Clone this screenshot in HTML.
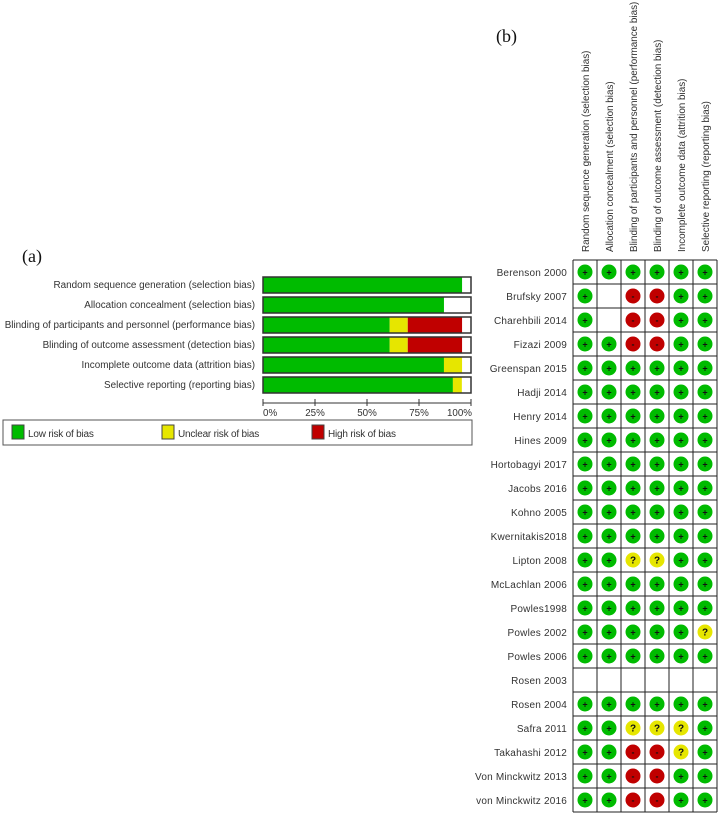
<!DOCTYPE html>
<html><head><meta charset="utf-8"><style>
html,body{margin:0;padding:0;background:#fff;}
svg{display:block;}
text{font-family:"Liberation Sans",Arial,sans-serif;}
</style></head><body>
<svg id="fig" width="721" height="814" viewBox="0 0 721 814" xmlns="http://www.w3.org/2000/svg">
<text x="22" y="262" font-size="18" fill="#111" style="font-family:'Liberation Serif',serif">(a)</text>
<text x="496" y="42" font-size="18" fill="#111" style="font-family:'Liberation Serif',serif">(b)</text>
<g id="summary"></g>
<g id="grid"></g>
</svg>
<script>
const domains = ["Random sequence generation (selection bias)","Allocation concealment (selection bias)","Blinding of participants and personnel (performance bias)","Blinding of outcome assessment (detection bias)","Incomplete outcome data (attrition bias)","Selective reporting (reporting bias)"];
const lowPct = [95.7, 87.0, 60.9, 60.9, 87.0, 91.3];
const unclearPct = [0, 0, 8.7, 8.7, 8.7, 4.3];
const highPct = [0, 0, 26.1, 26.1, 0, 0];
const tickValues = [0, 25, 50, 75, 100];
const tickLabels = ["0%","25%","50%","75%","100%"];
const studies = ["Berenson 2000","Brufsky 2007","Charehbili 2014","Fizazi 2009","Greenspan 2015","Hadji 2014","Henry 2014","Hines 2009","Hortobagyi 2017","Jacobs 2016","Kohno 2005","Kwernitakis2018","Lipton 2008","McLachlan 2006","Powles1998","Powles 2002","Powles 2006","Rosen 2003","Rosen 2004","Safra 2011","Takahashi 2012","Von Minckwitz 2013","von Minckwitz 2016"];
const judgments = ["++++++","+ --++","+ --++","++--++","++++++","++++++","++++++","++++++","++++++","++++++","++++++","++++++","++??++","++++++","++++++","+++++?","++++++","      ","++++++","++???+","++--?+","++--++","++--++"];

const NS="http://www.w3.org/2000/svg";
function mk(tag,attrs,parent){const e=document.createElementNS(NS,tag);for(const k in attrs)e.setAttribute(k,attrs[k]);parent.appendChild(e);return e;}
const GREEN="#00bb00",YELLOW="#e6e600",RED="#c00000";

// Panel (a)
const S=document.getElementById('summary');
const x0=263,x1=471;
const xs=v=>x0+(x1-x0)*v/100;
const rowY=i=>277+i*20;
domains.forEach((d,i)=>{
  const y=rowY(i);
  const t=mk('text',{x:255,y:y+11,'text-anchor':'end','font-size':'9.9',fill:'#333'},S);
  t.textContent=d;
  
  
  mk('rect',{x:x0,y:y,width:x1-x0,height:16,fill:'#fff'},S);
  let acc=0;
  [[lowPct[i],GREEN,'bar-low'],[unclearPct[i],YELLOW,'bar-unclear'],[highPct[i],RED,'bar-high']].forEach(([v,c,n])=>{
    if(v>0){const r=mk('rect',{x:xs(acc),y:y,width:xs(acc+v)-xs(acc),height:16,fill:c},S);
      
      }
    acc+=v;
  });
  const b=mk('rect',{x:x0,y:y,width:x1-x0,height:16,fill:'none',stroke:'#333','stroke-width':1.5},S);
  
  
});
const ax=mk('line',{x1:x0,y1:403,x2:x1,y2:403,stroke:'#333','stroke-width':1},S);


tickValues.forEach((v,i)=>{
  mk('line',{x1:xs(v),y1:399,x2:xs(v),y2:406,stroke:'#333'},S);
  const anchor=i==0?'start':(i==tickValues.length-1?'end':'middle');
  const t=mk('text',{x:xs(v)+(i==tickValues.length-1?1:0),y:416,'text-anchor':anchor,'font-size':'9.8',fill:'#333'},S);
  t.textContent=tickLabels[i];
  
  
});
const lg=mk('g',{},S);


mk('rect',{x:3,y:420,width:469,height:25,fill:'#fff',stroke:'#555','stroke-width':1},lg);
[[12,GREEN,"Low risk of bias"],[162,YELLOW,"Unclear risk of bias"],[312,RED,"High risk of bias"]].forEach(([x,c,l])=>{
  mk('rect',{x:x,y:425,width:12,height:14,fill:c,stroke:'#444'},lg);
  const t=mk('text',{x:x+16,y:437,'font-size':'10','letter-spacing':'-0.2',fill:'#333'},lg);
  t.textContent=l;
  
  
});

// Panel (b)
const G=document.getElementById('grid');
const gx=573,gy=260,cw=24,rh=24;
domains.forEach((d,j)=>{
  const cx=gx+j*cw+cw/2+4;
  const t=mk('text',{x:0,y:0,'font-size':'9.9',fill:'#333',transform:`translate(${cx},252) rotate(-90)`},G);
  t.textContent=d;
  
  
});
studies.forEach((s,i)=>{
  const y=gy+i*rh;
  const t=mk('text',{x:567,y:y+16,'text-anchor':'end','font-size':'10','letter-spacing':'0.2',fill:'#333'},G);
  t.textContent=s;
  
  
  for(let j=0;j<6;j++){
    const c=judgments[i][j];
    const cx=gx+j*cw+cw/2,cy=y+rh/2;
    if(c==='+'||c==='-'||c==='?'){
      const col=c==='+'?GREEN:(c==='-'?RED:YELLOW);
      const g=mk('g',{},G);
      
      
      mk('circle',{cx:cx,cy:cy,r:7.5,fill:col},g);
      const tt=mk('text',{x:cx,y:cy+3.5,'text-anchor':'middle','font-size':c==='?'?'10':'9','font-weight':'bold',fill:'#111'},g);
      tt.textContent=c;
    }
  }
});
for(let j=0;j<=6;j++) mk('line',{x1:gx+j*cw,y1:gy,x2:gx+j*cw,y2:gy+studies.length*rh,stroke:'#222','stroke-width':1},G);
for(let i=0;i<=studies.length;i++) mk('line',{x1:gx,y1:gy+i*rh,x2:gx+6*cw,y2:gy+i*rh,stroke:'#222','stroke-width':1},G);
</script>
</body></html>
